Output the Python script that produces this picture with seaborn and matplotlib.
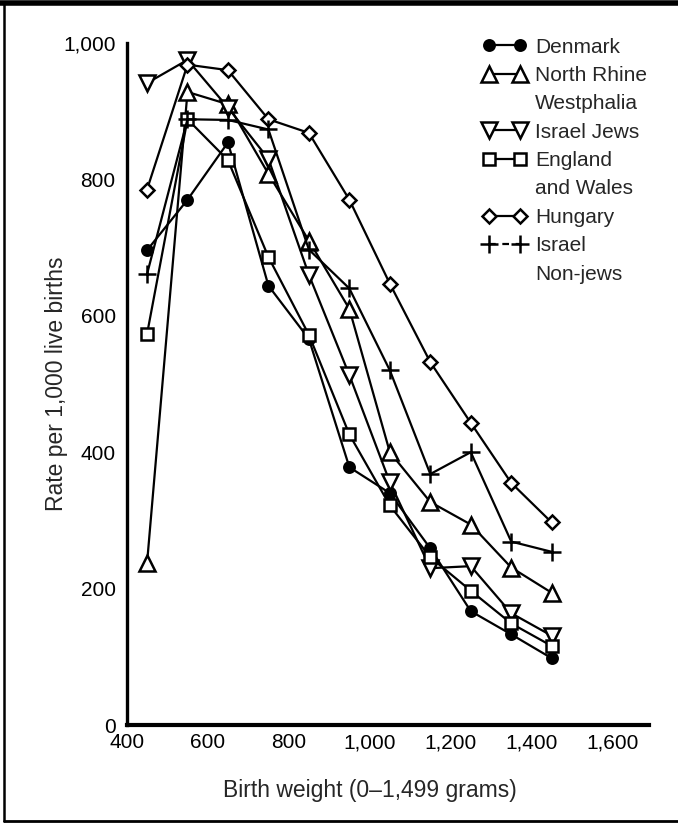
import numpy as np
import matplotlib
matplotlib.use("Agg")
import matplotlib.pyplot as plt
from matplotlib.lines import Line2D
import seaborn as sb

# birth weight bin midpoints (grams)
weight = [450, 550, 650, 750, 850, 950, 1050, 1150, 1250, 1350, 1450]

denmark = [696, 770, 854, 644, 566, 378, 340, 259, 167, 133, 98]
north_rhine = [237, 928, 910, 808, 710, 610, 400, 327, 294, 231, 194]
israel_jews = [941, 975, 905, 830, 660, 513, 356, 230, 233, 164, 131]
england_wales = [573, 888, 828, 686, 572, 426, 322, 246, 197, 149, 116]
hungary = [785, 968, 960, 888, 868, 770, 647, 532, 443, 355, 297]
israel_nonjews = [661, 888, 887, 873, 697, 640, 520, 368, 400, 269, 254]

series_names = ["Denmark", "North Rhine", "Israel Jews", "England", "Hungary", "Israel"]
extra_lines = ["", "Westphalia", "", "and Wales", "", "Non-jews"]

x_ticks = [400, 600, 800, 1000, 1200, 1400, 1600]
x_labels = ["400", "600", "800", "1,000", "1,200", "1,400", "1,600"]
y_ticks = [0, 200, 400, 600, 800, 1000]
y_labels = ["0", "200", "400", "600", "800", "1,000"]


def main():
    sb.set_style("white")
    plt.rcParams['font.family'] = ['Liberation Sans', 'DejaVu Sans']

    fig = plt.figure(figsize=(6.78, 8.24), dpi=100)
    ax = fig.add_axes([0.187, 0.12, 0.77, 0.828])

    styles = [
        dict(marker="o", markersize=7.5, markerfacecolor="black"),
        dict(marker="^", markersize=11, markerfacecolor="white"),
        dict(marker="v", markersize=11, markerfacecolor="white"),
        dict(marker="s", markersize=9, markerfacecolor="white"),
        dict(marker="D", markersize=7.5, markerfacecolor="white"),
        dict(marker="+", markersize=13, markerfacecolor="black"),
    ]
    legend_ls = ["-", "-", "-", "-", "-", (0, (3, 3))]
    data = [denmark, north_rhine, israel_jews, england_wales, hungary, israel_nonjews]

    handles = []
    labels = []
    for vals, st, ls, name, extra in zip(data, styles, legend_ls, series_names, extra_lines):
        sb.lineplot(x=weight, y=vals, ax=ax, color="black", linewidth=1.6,
                    markeredgecolor="black", markeredgewidth=1.8, clip_on=False,
                    **st)
        handles.append(Line2D([], [], color="black", linewidth=1.6, linestyle=ls,
                              markeredgecolor="black", markeredgewidth=1.8, **st))
        labels.append(name)
        if extra:
            handles.append(Line2D([], [], linestyle="none", marker=None))
            labels.append(extra)

    ax.set_xlim(400, 1690)
    ax.set_ylim(0, 1000)
    ax.set_xticks(x_ticks)
    ax.set_xticklabels(x_labels)
    ax.set_yticks(y_ticks)
    ax.set_yticklabels(y_labels)
    ax.tick_params(direction="in", length=13, width=1.6, labelsize=15, pad=6,
                   colors="black")
    ax.tick_params(axis="y", pad=8)

    for side in ["top", "right"]:
        ax.spines[side].set_visible(False)
    ax.spines["left"].set_linewidth(2.4)
    ax.spines["bottom"].set_linewidth(3.0)
    ax.spines["left"].set_color("black")
    ax.spines["bottom"].set_color("black")

    ax.set_xlabel("Birth weight (0\u20131,499 grams)", fontsize=16.5)
    ax.xaxis.set_label_coords(0.466, -0.079)
    ax.set_ylabel("Rate per 1,000 live births", fontsize=16.5)
    ax.yaxis.set_label_coords(-0.112, 0.5)

    ax.legend(handles, labels, loc="upper left", bbox_to_anchor=(0.697, 0.967),
              bbox_transform=fig.transFigure, frameon=False, fontsize=15,
              numpoints=2, handlelength=2.1, handletextpad=0.4,
              labelspacing=0.45, borderpad=0)

    # page frame: thick top rule, thin left and bottom rules
    fig.add_artist(Line2D([0, 1], [0.996, 0.996], transform=fig.transFigure,
                          color="black", linewidth=4))
    fig.add_artist(Line2D([0.006, 0.006], [0.004, 0.996], transform=fig.transFigure,
                          color="black", linewidth=1.8))
    fig.add_artist(Line2D([0.006, 1], [0.004, 0.004], transform=fig.transFigure,
                          color="black", linewidth=2))

    fig.savefig("out.png", dpi=100)


if __name__ == "__main__":
    main()
